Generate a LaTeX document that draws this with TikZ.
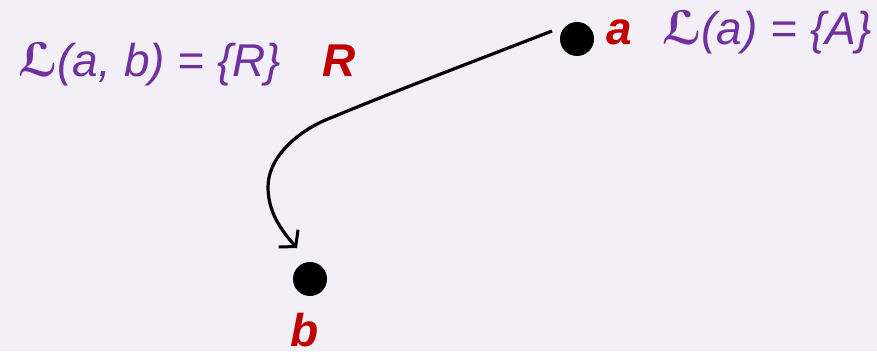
\documentclass[tikz,border=0pt]{standalone}
\usepackage{fontspec}
\setmainfont{Liberation Sans}
\newfontfamily\symfont{DejaVu Sans}
\usetikzlibrary{arrows.meta}
\definecolor{bgc}{HTML}{F2F0F6}
\definecolor{purp}{HTML}{7030A0}
\definecolor{redc}{HTML}{C00000}
\tikzset{
  dot/.style={circle,fill=black,inner sep=0pt,minimum size=34pt},
  purptext/.style={text=purp,inner sep=0pt,anchor=base west,font=\fontsize{46}{50}\selectfont\itshape},
  redtext/.style={text=redc,inner sep=0pt,anchor=base west,font=\fontsize{46}{50}\selectfont\bfseries\itshape},
  arr/.style={line width=3.2pt,-{Straight Barb[length=11pt,width=26pt,line width=3pt]}}
}
\newcommand{\scriptL}{{\upshape\bfseries\symfont ℒ}}
\begin{document}
\begin{tikzpicture}[x=1pt,y=1pt]
\fill[bgc] (0,0) rectangle (877,351);
\useasboundingbox (0,0) rectangle (877,351);
\node[dot] (a) at (577,312) {};
\node[dot] (b) at (310,72) {};
\node[redtext] (la) at (606,306) {a};
\node[purptext] (La) at (662,306) {\scriptL(a) = \{A\}};
\node[purptext] (Lab) at (18,274) {\scriptL(a, b) = \{R\}};
\node[redtext] (lR) at (322,274) {R};
\node[redtext] (lb) at (290,5) {b};
\draw[arr] ([shift={(-25pt,8pt)}]a.center) .. controls (480,292) and (390,258) .. (333,234)
  .. controls (300,222) and (268,195) .. (268,164)
  .. controls (268,140) and (280,122) .. ([shift={(-13pt,31pt)}]b.center);
\end{tikzpicture}
\end{document}
